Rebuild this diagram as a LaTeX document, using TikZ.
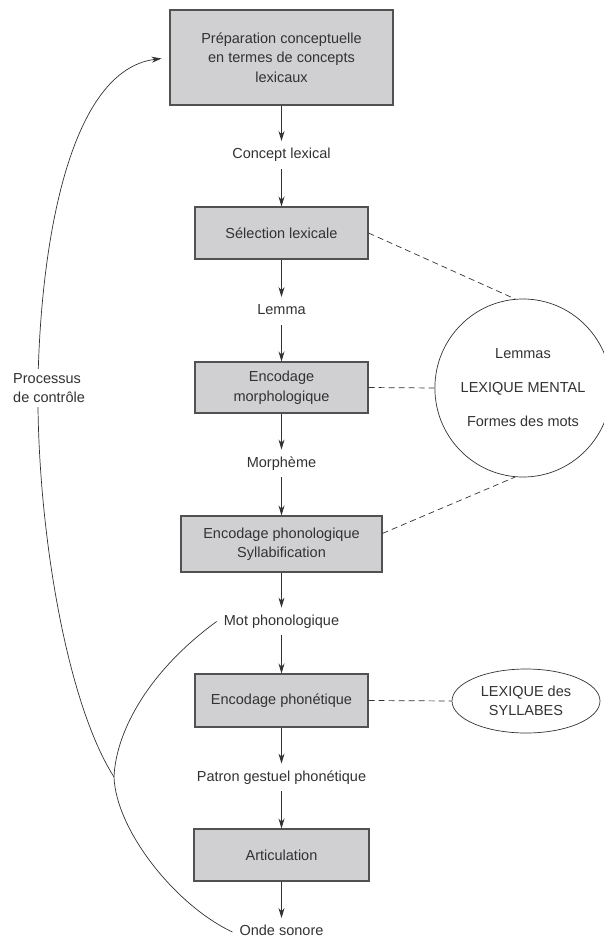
\documentclass[tikz,border=0pt]{standalone}
\usepackage{fontspec}
\setmainfont{Liberation Sans}
\definecolor{boxgray}{RGB}{208, 208, 210}
\definecolor{inkgray}{RGB}{50, 50, 50}
\usetikzlibrary{shapes.geometric, arrows.meta, positioning}

\begin{document}
\begin{tikzpicture}[x=1pt, y=-1pt, color=inkgray,
        font=\fontsize{14.5}{19.5}\selectfont,
        stagebox/.style={draw=inkgray!85, line width=1.1pt, fill=boxgray, align=center, inner sep=0pt},
        flowlabel/.style={inner sep=7pt, text height=10.5pt, text depth=3pt},
        lexstore/.style={draw, ellipse, line width=0.7pt, align=center, inner sep=0pt},
        lexlink/.style={draw, dash pattern=on 6pt off 4pt, line width=0.7pt},
        flowarrow/.style={draw, line width=0.8pt, -{Stealth[length=10pt, width=6pt]}}]
    \useasboundingbox (0,0) rectangle (604,939);

    % main chain
    \node[stagebox, minimum width=223pt, minimum height=95pt] (prep) at (281.5,57.5)
        {Préparation conceptuelle\\en termes de concepts\\lexicaux};
    \node[flowlabel] (concept) at (281.5,155) {Concept lexical};
    \node[stagebox, minimum width=173pt, minimum height=52pt] (sel) at (281.5,233) {Sélection lexicale};
    \node[flowlabel] (lemma) at (281.5,311) {Lemma};
    \node[stagebox, minimum width=173pt, minimum height=51pt] (morph) at (281.5,387.5) {Encodage\\morphologique};
    \node[flowlabel] (morpheme) at (281.5,463.5) {Morphème};
    \node[stagebox, minimum width=201pt, minimum height=56pt] (phono) at (281.5,544) {Encodage phonologique\\Syllabification};
    \node[flowlabel] (motphono) at (281.5,621.5) {Mot phonologique};
    \node[stagebox, minimum width=173pt, minimum height=53pt] (phonet) at (281.5,700.5) {Encodage phonétique};
    \node[flowlabel] (patron) at (281.5,777.5) {Patron gestuel phonétique};
    \node[stagebox, minimum width=175pt, minimum height=52pt] (artic) at (281.5,855) {Articulation};
    \node[flowlabel] (onde) at (281.5,932) {Onde sonore};

    \foreach \a/\b in {prep/concept, concept/sel, sel/lemma, lemma/morph, morph/morpheme,
        morpheme/phono, phono/motphono, motphono/phonet, phonet/patron, patron/artic, artic/onde}
        \draw[flowarrow] (\a) -- (\b);

    % lexicons
    \node[lexstore, minimum width=166pt, minimum height=178pt] (lexmental) at (523,388)
        {Lemmas\\[14.5pt]LEXIQUE MENTAL\\[14.5pt]Formes des mots};
    \node[lexstore, minimum width=148pt, minimum height=64pt] (syll) at (526,701) {LEXIQUE des\\SYLLABES};

    \draw[lexlink] (sel.east) -- (lexmental.95);
    \draw[lexlink] (morph.east) -- (lexmental.west);
    \draw[lexlink] (phono.6) -- (lexmental.265);
    \draw[lexlink] (phonet.east) -- (syll.west);

    % control loop
    \coordinate (cusp) at (114,777);
    \draw[line width=0.7pt] (motphono.west) .. controls (150,670) and (116,730) .. (cusp)
        .. controls (116,830) and (175,905) .. (onde.west);
    \draw[flowarrow, line width=0.7pt, shorten >=8pt] (cusp) .. controls (65,700) and (36,520) .. (38,380)
        .. controls (41,240) and (70,70) .. (prep.west);
    \node[fill=white, align=left, inner sep=4pt, anchor=west] (controle) at (9,388) {Processus\\de contrôle};
\end{tikzpicture}
\end{document}
